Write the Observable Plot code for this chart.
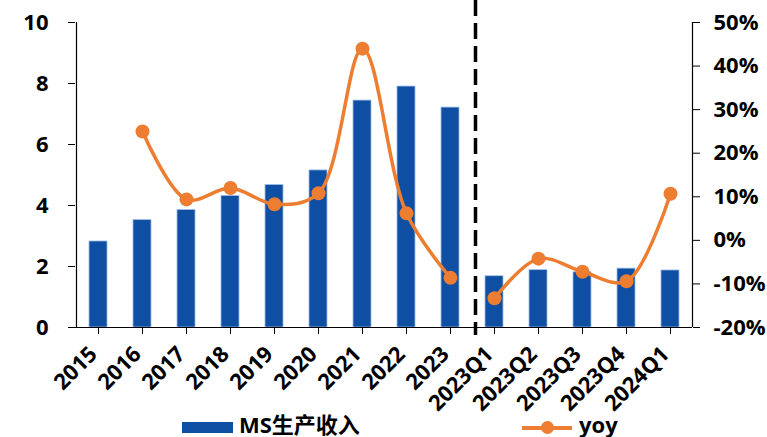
<!DOCTYPE html>
<html><head><meta charset="utf-8">
<script src="https://cdn.jsdelivr.net/npm/d3@7"></script>
<script src="https://cdn.jsdelivr.net/npm/@observablehq/plot@0.6"></script>
<style>
body{margin:0;background:#fff;font-family:"Open Sans","Noto Sans CJK SC",sans-serif;}
#wrap{position:relative;width:767px;height:437px;overflow:hidden;}
#legend{position:absolute;left:0;top:410px;width:767px;height:27px;}
.sw{position:absolute;}
.lt{position:absolute;font-size:22px;font-weight:700;line-height:22px;color:#000;white-space:nowrap;}
</style></head><body><div id="wrap"><div id="chart"></div><div id="legend"></div></div>
<script>
const categories = ["2015","2016","2017","2018","2019","2020","2021","2022","2023","2023Q1","2023Q2","2023Q3","2023Q4","2024Q1"];
const revenue = [2.82, 3.52, 3.85, 4.31, 4.67, 5.15, 7.44, 7.90, 7.21, 1.68, 1.88, 1.81, 1.93, 1.87];
const yoy = [null, 25.0, 9.4, 12.0, 8.3, 10.8, 44.0, 6.2, -8.6, -13.3, -4.2, -7.2, -9.4, 10.7];
const segment = ["A","A","A","A","A","A","A","A","A","B","B","B","B","B"];
const leftTicks = [0, 2, 4, 6, 8, 10];
const rightTicks = [-20, -10, 0, 10, 20, 30, 40, 50];
const seriesNames = ["MS生产收入", "yoy"];

const blue = "#0E4FA3", orange = "#ED7D31";
const yoyToLeft = v => (v + 20) / 70 * 10;

const bars = categories.map((c, i) => ({cat: c, value: revenue[i]}));
const pts = categories.map((c, i) => ({cat: c, v: yoy[i], seg: segment[i]})).filter(d => d.v != null);

const chart = Plot.plot({
  width: 767, height: 410,
  marginLeft: 75, marginRight: 75, marginTop: 22, marginBottom: 83,
  style: {fontFamily: '"Open Sans","Noto Sans CJK SC",sans-serif', fontSize: "22px", fontWeight: 700, color: "#000", background: "#fff", overflow: "visible"},
  x: {type: "band", domain: categories, paddingInner: 0.6, paddingOuter: 0.3, label: null},
  y: {domain: [0, 10], label: null},
  marks: [
    Plot.barY(bars, {x: "cat", y: "value", fill: blue, stroke: "#9dbbe3", strokeWidth: 0.8}),
    Plot.ruleX([categories[0]], {dx: -22, stroke: "#000", strokeWidth: 1.2}),
    Plot.ruleX([categories[categories.length - 1]], {dx: 22, stroke: "#000", strokeWidth: 1.2}),
    Plot.ruleY([0], {stroke: "#000", strokeWidth: 1.2, insetLeft: -7}),
    Plot.ruleX(["2023Q1"], {dx: -19, stroke: "#000", strokeWidth: 3.5, strokeDasharray: "16,7", insetTop: -22, insetBottom: -8}),
    Plot.line(pts, {x: "cat", y: d => yoyToLeft(d.v), z: "seg", stroke: orange, strokeWidth: 3.5, curve: "catmull-rom"}),
    Plot.dot(pts, {x: "cat", y: d => yoyToLeft(d.v), r: 7, fill: orange, stroke: "none"}),
    Plot.axisY(leftTicks, {anchor: "left", tickSize: 7, tickPadding: 20, tickFormat: d => String(d)}),
    Plot.axisY(rightTicks.map(yoyToLeft), {anchor: "right", tickSize: 7, tickPadding: 14, tickFormat: d => Math.round(d * 7 - 20) + "%"}),
    Plot.axisX({anchor: "bottom", tickSize: 7, tickFormat: () => ""}),
    Plot.axisX({anchor: "bottom", tickSize: 0, tickPadding: 17, tickRotate: -45, dx: -5, dy: 6})
  ]
});
document.getElementById("chart").appendChild(chart);

const lg = document.getElementById("legend");
lg.innerHTML = `
  <div class="sw" style="left:182px;top:12px;width:51px;height:11px;background:${blue}"></div>
  <div class="lt" style="left:239px;top:3px">${seriesNames[0]}</div>
  <div class="sw" style="left:522px;top:16px;width:50px;height:3.5px;background:${orange}"></div>
  <div class="sw" style="left:541px;top:11px;width:13px;height:13px;border-radius:50%;background:${orange}"></div>
  <div class="lt" style="left:579px;top:3px">${seriesNames[1]}</div>
`;
</script></body></html>
